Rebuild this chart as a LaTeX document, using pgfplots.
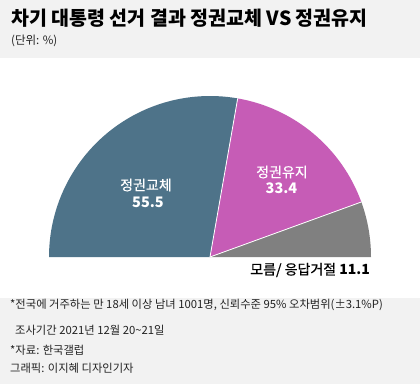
\documentclass[border=0pt]{standalone}
\usepackage{pgfplots}
\pgfplotsset{compat=1.18}
\usepackage{pgfplotstable}
\usepackage{fontspec}
\setmainfont{Noto Sans CJK KR}
\newfontfamily\kr{Noto Sans CJK KR}
\newfontfamily\krm[FakeBold=0.6]{Noto Sans CJK KR}
\definecolor{bgray}{HTML}{F2F2F2}
\definecolor{cblue}{HTML}{4E7389}
\definecolor{cmag}{HTML}{C65CB6}
\definecolor{cgray}{HTML}{808080}
\definecolor{txt}{HTML}{222222}
\pgfplotstableread{
label value
change 55.5
keep 33.4
unknown 11.1
}\shares
\pgfplotstablegetelem{0}{value}\of\shares \pgfmathsetmacro\va{\pgfplotsretval}
\pgfplotstablegetelem{1}{value}\of\shares \pgfmathsetmacro\vb{\pgfplotsretval}
\pgfplotstablegetelem{2}{value}\of\shares \pgfmathsetmacro\vc{\pgfplotsretval}
\pgfmathsetmacro\aA{180}
\pgfmathsetmacro\aB{180-1.8*\va}
\pgfmathsetmacro\aC{\aB-1.8*\vb}
\pgfmathsetmacro\aD{\aC-1.8*\vc}
\def\R{161}
\begin{document}
\begin{tikzpicture}[x=1pt,y=1pt]
\fill[white] (0,0) rectangle (420,384);
\fill[bgray] (0,326) rectangle (420,384);
\fill[bgray] (0,0) rectangle (420,86);
\begin{axis}[at={(210,127)}, anchor=origin, x=1pt, y=1pt,
  xmin=-161, xmax=161, ymin=0, ymax=161, hide axis, clip=false, scale only axis]
\fill[cblue] (axis cs:0,0) -- (axis cs:{\R*cos(\aA)},{\R*sin(\aA)}) arc[start angle=\aA, end angle=\aB, radius=\R pt] -- cycle;
\fill[cmag] (axis cs:0,0) -- (axis cs:{\R*cos(\aB)},{\R*sin(\aB)}) arc[start angle=\aB, end angle=\aC, radius=\R pt] -- cycle;
\fill[cgray] (axis cs:0,0) -- (axis cs:{\R*cos(\aC)},{\R*sin(\aC)}) arc[start angle=\aC, end angle=\aD, radius=\R pt] -- cycle;
\draw[white, line width=0.8pt] (axis cs:0,0) -- (axis cs:{\R*cos(\aB)},{\R*sin(\aB)});
\draw[white, line width=0.8pt] (axis cs:0,0) -- (axis cs:{\R*cos(\aC)},{\R*sin(\aC)});
\end{axis}
% title
\node[anchor=west, inner sep=0, text=black] at (11,365.5) {\kr\fontsize{19.5}{19.5}\selectfont\bfseries 차기 대통령 선거 결과 정권교체 VS 정권유지};
\node[anchor=west, inner sep=0, text=txt] at (11,343) {\kr\fontsize{11.5}{11.5}\selectfont (단위: \%)};
% slice labels
\node[align=center, inner sep=0, text=white] at (146,199) {\krm\fontsize{14}{14}\selectfont 정권교체};
\node[align=center, inner sep=0, text=white] at (148,182) {\fontsize{14.5}{14.5}\selectfont\bfseries 55.5};
\node[align=center, inner sep=0, text=white] at (282,212) {\krm\fontsize{14}{14}\selectfont 정권유지};
\node[align=center, inner sep=0, text=white] at (281.5,196) {\fontsize{14.5}{14.5}\selectfont\bfseries 33.4};
\node[anchor=east, inner sep=0, text=black] at (370,114) {\krm\fontsize{14}{14}\selectfont 모름/ 응답거절 {\kr\bfseries 11.1}};
% notes
\node[anchor=west, inner sep=0, text=txt] at (10,79) {\kr\fontsize{11.3}{11.3}\selectfont *전국에 거주하는 만 18세 이상 남녀 1001명, 신뢰수준 95\% 오차범위(±3.1\%P)};
\node[anchor=west, inner sep=0, text=txt] at (15,54) {\kr\fontsize{11.3}{11.3}\selectfont 조사기간 2021년 12월 20\textasciitilde 21일};
\node[anchor=west, inner sep=0, text=txt] at (10,34) {\kr\fontsize{11.3}{11.3}\selectfont *자료: 한국갤럽};
\node[anchor=west, inner sep=0, text=txt] at (10,16) {\kr\fontsize{11.3}{11.3}\selectfont 그래픽: 이지혜 디자인기자};
\end{tikzpicture}
\end{document}
